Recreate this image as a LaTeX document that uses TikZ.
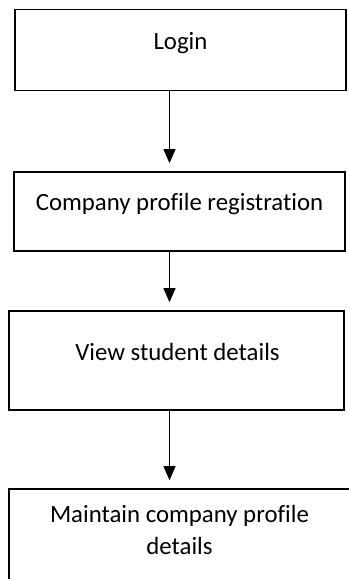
\documentclass[tikz,border=0pt]{standalone}
\usepackage{fontspec}
\setmainfont{Carlito}[Ligatures=NoCommon]
\usetikzlibrary{arrows.meta}
\begin{document}
\begin{tikzpicture}[x=1bp,y=-1bp,
  box/.style={draw,line width=1.6bp,inner sep=0pt},
  txt/.style={anchor=base,inner sep=0pt,align=center,font=\fontsize{24.8bp}{32bp}\selectfont},
  arr/.style={line width=1bp,-{Triangle[width=12bp,length=14bp]},shorten >=8bp}]
\useasboundingbox (0,0) rectangle (348,579);
\coordinate (ax) at (169.5,0);
\node[box,minimum width=331bp,minimum height=81bp] (login) at (180.5,50) {};
\node[box,minimum width=331bp,minimum height=79bp] (reg) at (179.5,211.5) {};
\node[box,minimum width=335bp,minimum height=99bp] (view) at (176.5,360.5) {};
\node[box,minimum width=343bp,minimum height=120bp] (maint) at (180.5,549) {};
\node[txt] (t1) at (180.5,50) {Login};
\node[txt] (t2) at (179.5,210.7) {Company profile registration};
\node[txt] (t3) at (177.5,360) {View student details};
\node[txt] (t4) at (179.5,554) {Maintain company profile\\details};
\draw[arr] (login.south -| ax) -- (reg.north -| ax);
\draw[arr] (reg.south -| ax) -- (view.north -| ax);
\draw[arr] (view.south -| ax) -- (maint.north -| ax);
\end{tikzpicture}
\end{document}
